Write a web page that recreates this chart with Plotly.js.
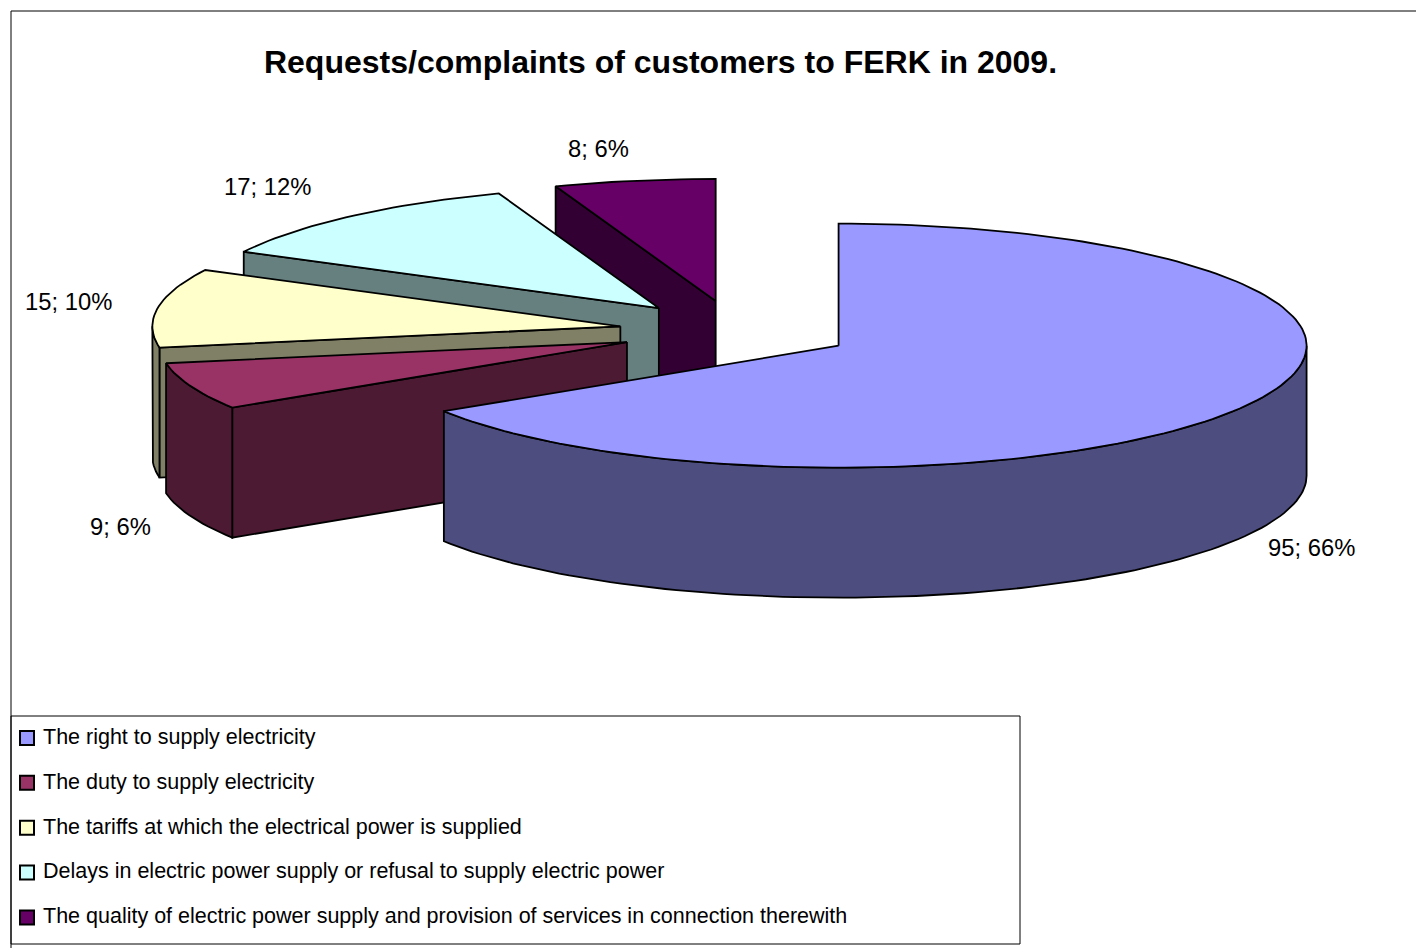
<!DOCTYPE html>
<html><head><meta charset="utf-8">
<script src="https://cdn.plot.ly/plotly-3.0.1.min.js"></script>
<style>html,body{margin:0;padding:0;background:#fff}#c{width:1416px;height:948px}</style>
</head><body><div id="c"></div>
<script>
const categories = [
  "The right to supply electricity",
  "The duty to supply electricity",
  "The tariffs at which the electrical power is supplied",
  "Delays in electric power supply or refusal to supply electric power",
  "The quality of electric power supply and provision of services in connection therewith"
];
const values = [95, 9, 15, 17, 8];
const percents = [66, 6, 10, 12, 6];
const topColors = ["#9999ff", "#993366", "#ffffcc", "#ccffff", "#660066"];
const sideColors = ["#4d4d80", "#4d1a33", "#808066", "#668080", "#330033"];
const labelPos = [[1311,547],[120.5,526],[68.5,301],[267,186],[598,148]];

const CX=736, CY=331, RX=468, RY=122, DEPTH=130, EXPLODE=0.25;
const total = values.reduce((a,b)=>a+b,0);
const rad = d => d*Math.PI/180;
const traces = [];
function poly(pts, color){
  const xs = pts.map(p=>p[0]), ys = pts.map(p=>p[1]);
  xs.push(xs[0]); ys.push(ys[0]);
  traces.push({type:'scatter',mode:'lines',x:xs,y:ys,fill:'toself',fillcolor:color,
    line:{color:'#000',width:1.8},hoverinfo:'skip',showlegend:false});
}
let acc=0;
const slices = values.map((v,i)=>{
  const a0=acc/total*360; acc+=v; const a1=acc/total*360;
  const m=(a0+a1)/2;
  const ax=CX+EXPLODE*RX*Math.sin(rad(m)), ay=CY-EXPLODE*RY*Math.cos(rad(m));
  return {i,a0,a1,ax,ay};
});
const pt=(s,a,d)=>[s.ax+RX*Math.sin(rad(a)), s.ay-RY*Math.cos(rad(a))+(d||0)];
function arc(s,a,b,d){const out=[];const n=Math.max(2,Math.ceil(Math.abs(b-a)/1.5));
  for(let k=0;k<=n;k++)out.push(pt(s,a+(b-a)*k/n,d));return out;}
// paint from the back of the picture to the front
[4,3,2,1,0].forEach(i=>{
  const s=slices[i];
  // radial faces: drawn only if their outward normal points toward the viewer
  [[s.a0,-90],[s.a1,90]].forEach(([a,turn])=>{
    if(-Math.cos(rad(a+turn))>0.001){
      const p=pt(s,a);
      poly([[s.ax,s.ay],p,[p[0],p[1]+DEPTH],[s.ax,s.ay+DEPTH]],sideColors[i]);
    }
  });
  // outer wall: only the part of the rim in front (90..270 degrees)
  const lo=Math.max(s.a0,90), hi=Math.min(s.a1,270);
  if(hi>lo) poly(arc(s,lo,hi,0).concat(arc(s,hi,lo,DEPTH)),sideColors[i]);
  poly([[s.ax,s.ay]].concat(arc(s,s.a0,s.a1,0)),topColors[i]);
});
// legend entries
categories.forEach((c,i)=>{
  traces.push({type:'scatter',mode:'markers',x:[null],y:[null],name:c,legendgroup:'g'+i,
    marker:{symbol:'square',size:14,color:topColors[i],line:{color:'#000',width:2}},hoverinfo:'skip'});
});
const annotations = values.map((v,i)=>({xref:'x',yref:'y',x:labelPos[i][0],y:labelPos[i][1],
  text:v+'; '+percents[i]+'%',showarrow:false,xanchor:'center',yanchor:'middle',
  font:{family:'Liberation Sans',size:23.8,color:'#000'}}));
const layout={
  width:1416,height:948,margin:{l:0,r:0,t:0,b:0,autoexpand:false},paper_bgcolor:'#fff',plot_bgcolor:'#fff',
  title:{text:'<b>Requests/complaints of customers to FERK in 2009.</b>',x:660.5/1416,xanchor:'center',y:1-62/948,yanchor:'middle',
    font:{family:'Liberation Sans',size:32,color:'#000'}},
  xaxis:{range:[0,1416],visible:false,fixedrange:true},
  yaxis:{range:[948,0],visible:false,fixedrange:true},
  showlegend:true,
  legend:{x:3/1416,y:1-715/948,xanchor:'left',yanchor:'top',bgcolor:'rgba(0,0,0,0)',borderwidth:0,
    font:{family:'Liberation Sans',size:21.5,color:'#000'},tracegroupgap:13.9,itemsizing:'trace',itemclick:false,itemdoubleclick:false},
  annotations,
  shapes:[
    {type:'line',xref:'x',yref:'y',x0:11,x1:1416,y0:11,y1:11,line:{color:'#000',width:1}},
    {type:'line',xref:'x',yref:'y',x0:11,x1:11,y0:11,y1:948,line:{color:'#000',width:1}},
    {type:'rect',xref:'x',yref:'y',x0:11,x1:1020,y0:716,y1:944,line:{color:'#000',width:1},fillcolor:'rgba(0,0,0,0)'}
  ]
};
Plotly.newPlot('c',traces,layout,{displayModeBar:false}).then(gd=>{
  // the reference legend keeps its swatches closer to the text than Plotly's fixed item gap
  gd.querySelectorAll('.legend .legendpoints path').forEach(p=>{
    p.setAttribute('transform','translate(24,2.5)');
  });
});
</script></body></html>
